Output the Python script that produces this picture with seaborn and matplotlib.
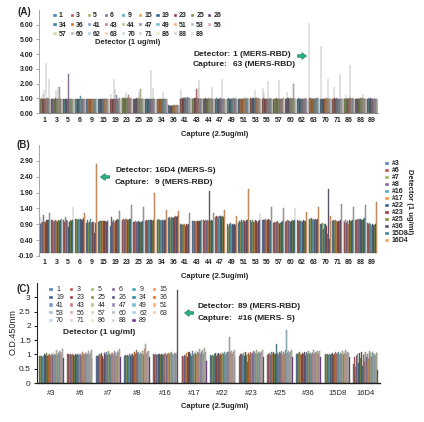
import matplotlib
matplotlib.use('Agg')
import matplotlib.pyplot as plt
from matplotlib.patches import Patch, FancyArrow
import seaborn as sns
import pandas as pd

# ---- Panel A: capture (x) x detector (hue), 1 ug/ml detectors ----
captures_a = ['1', '3', '5', '6', '9', '15', '19', '23', '25', '26', '34', '36', '41', '43', '44',
              '47', '49', '51', '53', '56', '57', '60', '62', '63', '70', '71', '86', '88', '89']
detectors_a = list(captures_a)

od_a = [
    [0.98, 0.95, 0.97, 0.93, 0.96, 0.99, 0.94, 0.97, 1.30, 0.95, 0.98, 0.96, 1.56, 0.97, 0.95, 0.99, 0.96, 0.98, 3.42, 0.97, 0.94, 0.99, 0.96, 1.02, 0.97, 0.95, 2.29, 0.98, 0.96],
    [0.97, 0.94, 0.99, 0.92, 0.96, 0.95, 0.98, 0.93, 0.97, 0.96, 0.94, 0.99, 0.95, 1.55, 0.97, 0.93, 0.96, 0.98, 0.95, 1.75, 0.97, 0.94, 1.80, 0.96, 0.99, 0.95, 0.97, 0.93, 0.96],
    [0.92, 0.95, 0.93, 0.96, 0.94, 0.92, 0.97, 0.95, 0.93, 0.96, 0.94, 0.95, 0.92, 0.96, 0.94, 2.68, 0.95, 0.93, 0.96, 0.94, 0.97, 0.95, 0.93, 0.96, 0.94, 0.92, 0.95, 0.97, 0.94],
    [0.93, 0.96, 0.94, 0.92, 0.95, 0.97, 0.93, 0.96, 0.94, 0.95, 0.93, 0.96, 0.94, 0.97, 0.95, 0.93, 1.15, 0.94, 0.96, 0.93, 0.95, 0.97, 0.94, 0.96, 0.93, 0.95, 0.94, 0.96, 0.93],
    [0.94, 0.92, 0.96, 0.93, 0.95, 0.94, 0.97, 0.93, 0.95, 0.96, 0.94, 0.92, 0.95, 0.97, 0.94, 0.96, 0.93, 0.95, 0.94, 0.96, 0.98, 0.94, 0.95, 0.93, 0.96, 0.94, 0.95, 0.97, 0.93],
    [0.95, 0.93, 0.96, 0.94, 0.92, 0.95, 0.97, 0.94, 0.96, 0.93, 0.95, 0.94, 0.96, 0.93, 0.95, 0.97, 0.94, 0.96, 0.93, 0.95, 0.94, 1.02, 0.96, 0.94, 0.95, 0.93, 0.97, 0.95, 0.94],
    [0.96, 0.94, 1.32, 0.95, 0.93, 0.97, 0.95, 0.94, 0.96, 0.93, 0.95, 2.30, 0.96, 0.94, 1.62, 0.97, 0.95, 0.93, 1.20, 0.96, 0.94, 0.95, 0.97, 0.93, 0.96, 0.94, 0.95, 1.05, 0.96],
    [1.00, 0.97, 0.99, 1.02, 0.98, 1.00, 0.97, 1.01, 0.99, 0.98, 1.00, 0.97, 1.45, 0.99, 1.01, 0.98, 1.00, 0.97, 0.99, 1.25, 1.01, 0.98, 1.00, 0.97, 0.99, 1.02, 0.98, 1.00, 0.97],
    [0.96, 0.98, 0.95, 0.97, 0.99, 0.96, 0.98, 0.95, 0.97, 0.99, 0.96, 0.98, 0.95, 0.97, 0.99, 0.96, 1.40, 0.98, 0.95, 0.97, 1.62, 0.96, 0.98, 0.95, 0.97, 0.99, 0.96, 0.98, 0.95],
    [0.97, 0.95, 0.98, 0.96, 0.94, 0.97, 0.99, 0.95, 0.96, 0.98, 0.94, 0.97, 0.95, 0.96, 0.98, 0.97, 0.95, 2.92, 0.96, 0.98, 0.94, 0.97, 1.70, 0.95, 0.96, 0.98, 0.97, 0.95, 0.96],
    [0.96, 0.94, 0.97, 0.95, 0.93, 0.96, 0.98, 0.94, 0.95, 0.97, 0.93, 0.96, 0.94, 0.95, 0.97, 0.96, 0.94, 0.95, 1.45, 0.96, 0.93, 0.97, 0.95, 0.94, 0.96, 0.97, 0.95, 0.94, 0.96],
    [0.52, 0.48, 0.55, 0.50, 0.46, 0.53, 0.49, 0.56, 0.51, 0.47, 0.54, 0.50, 0.48, 0.55, 0.52, 0.46, 0.51, 0.53, 0.49, 0.55, 0.47, 0.52, 0.50, 0.54, 0.48, 0.51, 0.45, 0.53, 0.50],
    [1.05, 0.98, 1.62, 1.02, 0.96, 1.08, 1.00, 0.97, 1.04, 0.99, 1.06, 0.95, 1.02, 0.98, 1.10, 1.01, 0.97, 1.05, 0.99, 1.03, 0.96, 1.07, 1.00, 0.98, 1.04, 0.97, 1.02, 0.99, 1.05],
    [0.97, 0.99, 0.96, 0.98, 1.00, 0.97, 0.95, 0.99, 0.98, 0.96, 1.00, 0.97, 0.99, 1.65, 0.98, 0.96, 0.99, 1.70, 0.97, 0.98, 1.00, 2.25, 0.97, 0.99, 0.96, 0.98, 1.00, 0.97, 0.99],
    [0.98, 0.96, 0.99, 0.97, 0.95, 0.98, 1.00, 0.96, 0.97, 0.99, 0.95, 0.98, 0.96, 0.97, 0.99, 0.98, 0.96, 0.97, 0.99, 0.96, 0.98, 1.00, 0.97, 0.96, 1.80, 0.98, 0.97, 0.96, 0.98],
    [0.97, 0.95, 0.98, 0.96, 0.99, 0.97, 0.95, 0.98, 0.96, 0.97, 0.99, 0.95, 0.98, 0.96, 0.97, 0.99, 0.95, 0.98, 0.96, 0.97, 2.30, 0.95, 0.98, 0.96, 0.99, 0.97, 0.95, 0.98, 0.96],
    [0.96, 0.98, 0.95, 0.97, 0.99, 0.96, 0.98, 0.95, 0.97, 0.99, 0.96, 0.98, 0.95, 0.97, 0.99, 0.96, 0.98, 0.95, 0.97, 0.99, 0.96, 0.98, 0.95, 0.97, 0.99, 0.96, 0.98, 0.95, 0.97],
    [0.95, 0.97, 0.99, 0.96, 0.98, 0.95, 0.97, 0.99, 0.96, 0.98, 0.95, 0.97, 0.99, 0.96, 0.98, 0.95, 0.97, 1.05, 0.96, 0.98, 0.95, 0.97, 0.99, 0.96, 0.98, 0.95, 0.97, 0.99, 0.96],
    [0.97, 0.99, 0.96, 0.98, 1.00, 0.97, 0.99, 0.96, 0.98, 1.00, 0.97, 0.99, 0.96, 1.55, 0.98, 1.00, 0.97, 0.99, 0.96, 0.98, 1.00, 0.97, 0.99, 0.96, 0.98, 1.00, 0.97, 0.99, 0.96],
    [0.96, 0.98, 1.68, 0.97, 0.99, 1.35, 0.98, 0.95, 0.97, 0.99, 0.96, 0.98, 0.95, 0.97, 0.99, 0.96, 0.98, 2.20, 0.97, 0.99, 0.96, 0.98, 0.95, 0.97, 0.99, 0.96, 0.98, 0.95, 0.97],
    [0.98, 0.95, 0.97, 0.99, 0.96, 0.98, 0.95, 0.97, 0.99, 0.96, 0.98, 0.95, 0.97, 0.99, 0.96, 2.22, 0.95, 0.97, 0.99, 0.96, 0.98, 0.95, 0.97, 0.99, 0.96, 0.98, 0.95, 0.97, 0.99],
    [0.97, 0.99, 0.96, 0.98, 1.45, 0.97, 0.99, 0.96, 0.98, 1.00, 0.97, 0.99, 0.96, 0.98, 1.00, 0.97, 0.99, 0.96, 0.98, 1.00, 0.97, 0.99, 0.96, 2.00, 1.00, 0.97, 0.99, 0.96, 0.98],
    [0.96, 0.98, 0.95, 0.97, 0.99, 0.96, 0.98, 0.95, 0.97, 0.99, 0.96, 0.98, 0.95, 0.97, 0.99, 0.96, 0.98, 0.95, 0.97, 0.99, 0.96, 0.98, 0.95, 0.97, 0.99, 0.96, 0.98, 0.95, 0.97],
    [6.15, 0.97, 0.99, 0.96, 0.98, 1.00, 0.97, 0.99, 0.96, 0.98, 1.00, 0.97, 0.99, 0.96, 0.98, 1.00, 0.97, 0.99, 0.96, 0.98, 1.00, 0.97, 0.99, 0.96, 0.98, 1.00, 0.97, 0.99, 0.96],
    [0.97, 0.95, 4.55, 0.96, 0.98, 0.95, 0.97, 0.99, 0.96, 0.98, 0.95, 0.97, 0.99, 0.96, 0.98, 0.95, 0.97, 0.99, 0.96, 0.98, 0.95, 2.30, 0.99, 0.96, 0.98, 0.95, 0.97, 0.99, 0.96],
    [0.98, 0.96, 0.99, 0.97, 0.95, 1.80, 0.96, 0.99, 0.97, 0.95, 0.98, 0.96, 0.99, 0.97, 0.95, 0.98, 0.96, 0.99, 0.97, 0.95, 0.98, 0.96, 2.68, 0.97, 0.95, 0.98, 0.96, 0.99, 0.97],
    [0.97, 0.99, 0.96, 0.98, 1.00, 0.97, 0.99, 1.25, 0.98, 1.00, 0.97, 0.99, 0.96, 0.98, 1.00, 0.97, 0.99, 3.28, 0.98, 1.00, 0.97, 0.99, 0.96, 0.98, 1.00, 0.97, 0.99, 0.96, 0.98],
    [0.98, 0.96, 0.99, 0.97, 1.00, 0.98, 0.96, 0.99, 0.97, 1.00, 0.98, 0.96, 0.99, 0.97, 1.00, 0.98, 0.96, 0.99, 0.97, 1.00, 0.98, 1.30, 0.99, 0.97, 1.00, 0.98, 0.96, 0.99, 0.97],
    [0.96, 0.98, 0.95, 0.97, 0.99, 0.96, 0.98, 0.95, 0.97, 0.99, 0.96, 0.98, 0.95, 0.97, 0.99, 0.96, 0.98, 0.95, 0.97, 0.99, 0.96, 0.98, 0.95, 0.97, 0.99, 0.96, 0.98, 0.95, 0.97],
]

# ---- Panel B: capture (x) x MERS-S detector (hue) ----
captures_b = list(captures_a)
detectors_b = ['#3', '#6', '#7', '#8', '#16', '#17', '#22', '#23', '#25', '#36', '15D8', '16D4']

od_b = [
    [0.92, 1.12, 0.95, 0.98, 1.20, 0.97, 0.96, 1.02, 0.99, 1.05, 1.03, 1.27],
    [1.05, 1.02, 0.98, 1.00, 1.03, 0.99, 1.01, 0.97, 1.04, 1.00, 1.02, 1.08],
    [1.02, 0.98, 1.12, 1.05, 0.95, 1.00, 0.80, 0.97, 1.02, 0.99, 1.04, 1.45],
    [1.08, 1.05, 1.07, 1.04, 1.06, 1.03, 1.08, 1.05, 1.07, 1.04, 1.10, 1.25],
    [0.95, 1.05, 0.93, 0.98, 1.08, 0.95, 0.92, 0.98, 0.97, 0.62, 0.95, 2.80],
    [0.98, 1.00, 0.99, 1.01, 0.98, 1.00, 1.01, 0.99, 1.00, 0.98, 1.01, 1.02],
    [0.85, 1.12, 1.05, 0.98, 1.02, 0.95, 1.00, 1.05, 1.08, 0.97, 1.04, 1.32],
    [1.03, 1.05, 1.07, 1.04, 1.06, 1.08, 1.05, 1.07, 1.04, 1.06, 1.08, 1.50],
    [0.98, 0.96, 0.99, 0.97, 0.98, 0.96, 0.99, 0.97, 0.98, 0.96, 0.99, 1.45],
    [1.00, 1.02, 1.04, 1.01, 1.03, 1.05, 1.02, 1.04, 1.01, 1.03, 1.05, 1.90],
    [1.00, 1.03, 1.08, 1.02, 1.05, 1.00, 1.04, 1.06, 1.01, 1.03, 1.05, 1.35],
    [1.10, 1.12, 1.08, 1.13, 1.11, 1.14, 1.10, 1.12, 1.15, 1.13, 1.16, 1.32],
    [0.90, 0.88, 0.92, 0.87, 0.89, 0.91, 0.86, 0.90, 0.88, 0.92, 0.89, 1.27],
    [1.00, 0.99, 1.01, 1.00, 0.98, 1.00, 1.01, 0.99, 1.00, 1.01, 0.99, 1.05],
    [1.02, 1.00, 1.04, 1.01, 1.03, 1.00, 1.02, 1.95, 1.01, 1.03, 1.00, 1.25],
    [1.12, 1.15, 1.13, 1.16, 1.14, 1.17, 1.15, 1.13, 1.16, 1.14, 1.12, 1.35],
    [0.92, 0.88, 0.80, 0.90, 0.93, 0.89, 0.91, 0.87, 0.90, 0.92, 0.89, 1.15],
    [0.95, 1.00, 0.97, 1.02, 0.98, 1.04, 0.99, 1.01, 0.96, 1.03, 1.05, 2.00],
    [1.02, 0.98, 1.05, 0.97, 1.00, 0.95, 1.03, 0.99, 0.93, 1.01, 1.04, 1.25],
    [1.05, 1.02, 1.08, 1.04, 1.06, 1.00, 1.03, 1.07, 1.02, 1.05, 1.01, 1.45],
    [0.95, 0.98, 0.93, 0.96, 0.99, 0.94, 0.97, 0.92, 0.95, 0.98, 1.00, 1.40],
    [0.98, 1.00, 1.02, 0.99, 1.05, 1.01, 0.98, 1.00, 1.03, 0.99, 1.02, 1.40],
    [1.02, 1.00, 1.03, 0.99, 1.01, 1.00, 0.98, 1.02, 1.00, 0.99, 1.01, 1.30],
    [1.05, 1.08, 1.06, 1.09, 1.05, 1.07, 1.04, 1.08, 1.06, 1.05, 1.07, 1.45],
    [0.92, 0.90, 0.93, 0.75, 0.91, 0.55, 0.90, 0.85, 0.60, 2.02, 0.45, 1.15],
    [1.00, 1.02, 0.99, 1.01, 1.03, 1.00, 0.98, 1.01, 0.99, 1.02, 1.04, 1.55],
    [1.05, 0.98, 1.02, 0.95, 1.00, 0.92, 1.03, 0.97, 1.01, 0.99, 1.05, 1.45],
    [1.03, 1.05, 1.08, 1.02, 1.06, 1.04, 1.07, 1.05, 1.03, 1.06, 1.10, 1.50],
    [0.95, 0.90, 0.93, 0.88, 0.91, 0.86, 0.92, 0.89, 0.87, 0.90, 0.93, 1.60],
]

# ---- Panel C: MERS-S capture (x) x detector (hue) ----
captures_c = list(detectors_b)
detectors_c = list(captures_a)

od_c = [
    [0.95, 0.93, 0.96, 0.94, 0.92, 0.95, 1.02, 0.97, 1.05, 0.94, 0.96, 0.99, 1.03, 0.95, 1.00, 0.97, 1.08, 0.96, 1.02, 0.99, 1.15, 0.97, 1.05, 1.12, 0.98, 1.10, 1.02, 1.18, 0.88],
    [1.00, 1.02, 0.99, 1.01, 0.98, 1.00, 0.97, 0.99, 0.96, 1.01, 0.98, 1.03, 0.97, 1.05, 0.99, 1.02, 0.96, 1.08, 1.00, 0.97, 1.05, 1.09, 0.98, 1.02, 1.12, 0.99, 1.06, 1.15, 0.87],
    [0.93, 0.96, 1.00, 0.95, 1.03, 0.98, 1.06, 0.94, 0.85, 1.05, 1.10, 0.97, 1.08, 0.99, 1.12, 1.03, 0.96, 1.09, 1.01, 1.06, 0.98, 1.12, 1.04, 0.95, 1.08, 1.15, 1.02, 1.20, 0.90],
    [0.95, 0.97, 0.93, 0.99, 0.96, 1.02, 0.94, 1.05, 0.98, 1.00, 0.96, 1.08, 1.02, 1.15, 0.99, 1.04, 1.10, 0.97, 1.06, 1.01, 1.13, 0.98, 1.05, 1.18, 1.35, 1.02, 1.09, 1.12, 0.92],
    [1.00, 0.98, 1.01, 0.99, 1.02, 0.97, 1.00, 1.03, 0.98, 1.01, 0.99, 1.04, 0.97, 1.02, 1.05, 0.99, 1.03, 1.06, 1.00, 0.98, 1.04, 1.07, 1.01, 0.99, 1.05, 1.02, 1.08, 1.03, 3.25],
    [0.93, 0.95, 0.90, 0.97, 0.94, 1.05, 0.92, 1.08, 0.96, 1.10, 1.03, 0.95, 1.12, 0.99, 1.06, 1.02, 1.15, 0.97, 1.08, 1.04, 1.18, 1.00, 1.10, 1.06, 1.14, 1.03, 1.22, 1.08, 0.78],
    [0.97, 0.95, 0.99, 0.96, 1.02, 0.98, 1.04, 0.95, 1.00, 1.06, 0.97, 1.03, 1.08, 0.99, 1.05, 1.01, 1.09, 0.98, 1.04, 1.10, 1.02, 1.07, 1.60, 1.05, 1.12, 1.01, 1.08, 1.14, 0.90],
    [0.95, 1.00, 0.97, 1.03, 0.98, 1.05, 0.96, 1.08, 0.99, 1.02, 0.75, 1.06, 0.98, 1.10, 1.01, 1.04, 1.12, 0.97, 1.07, 1.02, 1.15, 1.00, 1.09, 1.05, 1.13, 1.03, 1.10, 1.16, 0.92],
    [0.98, 1.02, 1.05, 0.99, 1.07, 1.01, 1.04, 1.08, 1.00, 1.03, 1.35, 1.06, 0.98, 1.10, 1.02, 1.05, 1.12, 0.99, 1.07, 1.03, 1.14, 1.01, 1.85, 1.06, 1.11, 1.04, 1.09, 1.15, 0.92],
    [1.00, 1.03, 1.06, 1.01, 1.08, 1.02, 0.98, 1.05, 1.00, 1.10, 0.96, 1.04, 1.07, 1.01, 1.12, 1.03, 1.06, 0.99, 1.09, 1.04, 1.14, 1.00, 1.08, 1.05, 1.11, 1.02, 1.07, 1.13, 0.90],
    [0.98, 1.00, 0.97, 1.02, 0.99, 1.01, 0.98, 1.03, 1.00, 1.05, 0.99, 1.02, 1.08, 1.00, 1.04, 1.01, 1.10, 0.98, 1.06, 1.02, 1.12, 0.99, 1.07, 1.03, 1.15, 1.01, 1.09, 1.05, 0.92],
    [0.65, 0.90, 0.55, 0.95, 0.82, 1.02, 0.70, 1.05, 0.88, 1.08, 0.60, 0.98, 1.05, 0.75, 1.10, 0.92, 1.02, 0.85, 1.12, 0.95, 1.05, 0.90, 1.08, 1.00, 1.03, 0.95, 1.06, 1.08, 0.45],
]

# Excel-style series colours
base6 = ['#4F81BD', '#C0504D', '#9BBB59', '#8064A2', '#4BACC6', '#F79646']
dark6 = ['#3A6496', '#953735', '#77933C', '#5F497A', '#31859C', '#E46C0A']
mid6 = ['#7A9DCB', '#CF7A78', '#B3CB83', '#9C86BA', '#76C0D4', '#F9AD6F']
light6 = ['#A7BFDE', '#E0A9A8', '#CDDDAC', '#BFB2D2', '#A5D5E2', '#FBC9A4']
pale6 = ['#C9D6EA', '#ECCBCA', '#DFE9CB', '#D8CFE3', '#C8E6EE', '#FCDDC4']

colors_a = base6 + dark6 + mid6 + light6 + pale6[:5]
colors_b = base6 + dark6[:5] + ['#F6A863']
colors_c = base6 + dark6 + mid6 + light6 + pale6[:4] + ['#7030A0']


def long_frame(groups, series, rows):
    recs = []
    for g, row in zip(groups, rows):
        for s, v in zip(series, row):
            recs.append((g, s, v))
    return pd.DataFrame(recs, columns=['capture', 'detector', 'od'])


df_a = long_frame(captures_a, detectors_a, od_a)
df_b = long_frame(captures_b, detectors_b, od_b)
df_c = long_frame(captures_c, detectors_c, od_c)

sns.set_style('white')
plt.rcParams['font.family'] = ['Liberation Sans', 'DejaVu Sans']

W, H = 424, 422
fig = plt.figure(figsize=(W / 100, H / 100), dpi=100)


def fx(x):
    return x / W


def fy(y):
    return 1 - y / H


def box(x0, y0, x1, y1):
    return [fx(x0), fy(y1), fx(x1) - fx(x0), fy(y0) - fy(y1)]


def draw_bars(ax, df, order, hue_order, colors):
    sns.barplot(data=df, x='capture', y='od', hue='detector', order=order,
                hue_order=hue_order, palette=colors, width=0.88, saturation=1,
                errorbar=None, legend=False, edgecolor='#5c5650', linewidth=0.25, ax=ax)
    ax.set_xlim(-0.5, len(order) - 0.5)
    ax.set_xlabel('')
    ax.set_ylabel('')
    for s in ['top', 'right']:
        ax.spines[s].set_visible(False)


def row_major(handles, ncol):
    # matplotlib fills legend columns first; reorder so entries read across rows
    nrows = -(-len(handles) // ncol)
    out = []
    for j in range(ncol):
        for r in range(nrows):
            k = r * ncol + j
            if k < len(handles):
                out.append(handles[k])
    return out


def arrow(x, y, direction):
    dx = 9 * direction
    fig.add_artist(FancyArrow(fx(x - dx / 2), fy(y), fx(dx), 0, width=0.006,
                              head_width=0.016, head_length=0.011,
                              length_includes_head=True, transform=fig.transFigure,
                              facecolor='#2DB38A', edgecolor='#1C7F62', linewidth=0.5))


def note(x, y, key, val, size=6):
    fig.text(fx(x), fy(y), key, fontsize=size, fontweight='bold', va='center', color='#222222')
    fig.text(fx(x + 40), fy(y), val, fontsize=size, fontweight='bold', va='center', color='#222222')


bold5 = dict(fontsize=5, fontweight='bold')

# ---------- (A) ----------
ax_a = fig.add_axes(box(39, 10, 378, 113))
draw_bars(ax_a, df_a, captures_a, detectors_a, colors_a)
ax_a.set_ylim(0, 7)
ax_a.set_yticks([0, 1, 2, 3, 4, 5, 6])
ax_a.set_yticklabels(['%.2f' % v for v in [0, 1, 2, 3, 4, 5, 6]], **bold5)
ax_a.set_xticks(range(len(captures_a)))
ax_a.set_xticklabels(captures_a, **bold5)
ax_a.tick_params(axis='x', length=0, pad=3)
ax_a.tick_params(axis='y', length=2, width=0.5, pad=2, color='#888888', left=True)
ax_a.spines['left'].set_color('#999999')
ax_a.spines['bottom'].set_color('#777777')
ax_a.spines['left'].set_linewidth(0.6)
ax_a.spines['bottom'].set_linewidth(0.6)
handles_a = [Patch(facecolor=c, label=l) for c, l in zip(colors_a, detectors_a)]
fig.legend(handles=row_major(handles_a, 10), loc='upper left', bbox_to_anchor=(fx(49), fy(9)),
           ncol=10, frameon=False, prop=dict(size=5, weight='bold'), handlelength=0.6,
           handleheight=0.6, handletextpad=0.3, columnspacing=0.45, labelspacing=0.3, borderpad=0)
fig.text(fx(128), fy(42), 'Detector (1 ug/ml)', ha='center', va='center', fontsize=5.5, fontweight='bold')
fig.text(fx(215), fy(134), 'Capture (2.5ug/ml)', ha='center', va='center', fontsize=5.5, fontweight='bold')
fig.text(fx(24), fy(12), '(A)', ha='center', va='center', fontsize=7, fontweight='bold')
note(193, 54, 'Detector:', '1 (MERS-RBD)')
note(193, 65, 'Capture:', '63 (MERS-RBD)')
arrow(302, 56, 1)

# ---------- (B) ----------
ax_b = fig.add_axes(box(39, 145, 378, 256))
draw_bars(ax_b, df_b, captures_b, detectors_b, colors_b)
ax_b.set_ylim(-0.1, 3.4)
yt_b = [-0.1, 0.4, 0.9, 1.4, 1.9, 2.4, 2.9]
ax_b.set_yticks(yt_b)
ax_b.set_yticklabels(['%.2f' % v for v in yt_b], **bold5)
ax_b.set_xticks(range(len(captures_b)))
ax_b.set_xticklabels(captures_b, **bold5)
ax_b.tick_params(axis='x', length=0, pad=2)
ax_b.tick_params(axis='y', length=2, width=0.5, pad=2, color='#888888', left=True)
ax_b.spines['left'].set_color('#999999')
ax_b.spines['bottom'].set_visible(False)
ax_b.spines['left'].set_linewidth(0.6)
handles_b = [Patch(facecolor=c, label=l) for c, l in zip(colors_b, detectors_b)]
fig.legend(handles=handles_b, loc='upper left', bbox_to_anchor=(fx(381), fy(157)), ncol=1,
           frameon=False, prop=dict(size=5, weight='bold'), handlelength=0.6, handleheight=0.6,
           handletextpad=0.4, labelspacing=0.0, borderpad=0)
fig.text(fx(409), fy(202), 'Detector (1 ug/ml)', ha='center', va='center', rotation=270,
         fontsize=5.5, fontweight='bold')
fig.text(fx(215), fy(277), 'Capture (2.5ug/ml)', ha='center', va='center', fontsize=5.5, fontweight='bold')
fig.text(fx(23), fy(145), '(B)', ha='center', va='center', fontsize=7, fontweight='bold')
note(115, 170, 'Detector:', '16D4 (MERS-S)')
note(115, 182, 'Capture:', '9 (MERS-RBD)')
arrow(105, 177, -1)

# ---------- (C) ----------
ax_c = fig.add_axes(box(37, 283, 380, 383))
draw_bars(ax_c, df_c, captures_c, detectors_c, colors_c)
ax_c.set_ylim(0, 3.5)
yt_c = [0, 0.5, 1, 1.5, 2, 2.5, 3]
ax_c.set_yticks(yt_c)
ax_c.set_yticklabels(['%g' % v for v in yt_c], fontsize=6)
ax_c.set_xticks(range(len(captures_c)))
ax_c.set_xticklabels(captures_c, fontsize=5.5)
ax_c.tick_params(axis='x', length=0, pad=5)
ax_c.tick_params(axis='y', length=2.5, width=0.8, pad=2, color='#222222', left=True)
ax_c.spines['left'].set_color('#222222')
ax_c.spines['bottom'].set_color('#222222')
ax_c.spines['left'].set_linewidth(0.8)
ax_c.spines['bottom'].set_linewidth(1.0)
handles_c = [Patch(facecolor=c, label=l) for c, l in zip(colors_c, detectors_c)]
fig.legend(handles=row_major(handles_c, 6), loc='upper left', bbox_to_anchor=(fx(45), fy(283)),
           ncol=6, frameon=False, prop=dict(size=5), handlelength=0.6, handleheight=0.6,
           handletextpad=0.5, columnspacing=0.75, labelspacing=0.1, borderpad=0)
fig.text(fx(13), fy(332), 'O.D.450nm', ha='center', va='center', rotation=90, fontsize=6.5)
fig.text(fx(99), fy(333), 'Detector (1 ug/ml)', ha='center', va='center', fontsize=6, fontweight='bold')
fig.text(fx(215), fy(407), 'Capture (2.5ug/ml)', ha='center', va='center', fontsize=5.5, fontweight='bold')
fig.text(fx(23), fy(289), '(C)', ha='center', va='center', fontsize=7, fontweight='bold')
note(198, 307, 'Detector:', '89 (MERS-RBD)')
note(198, 319, 'Capture:', '#16 (MERS- S)')
arrow(189, 313, -1)

fig.savefig('out.png', dpi=100)
